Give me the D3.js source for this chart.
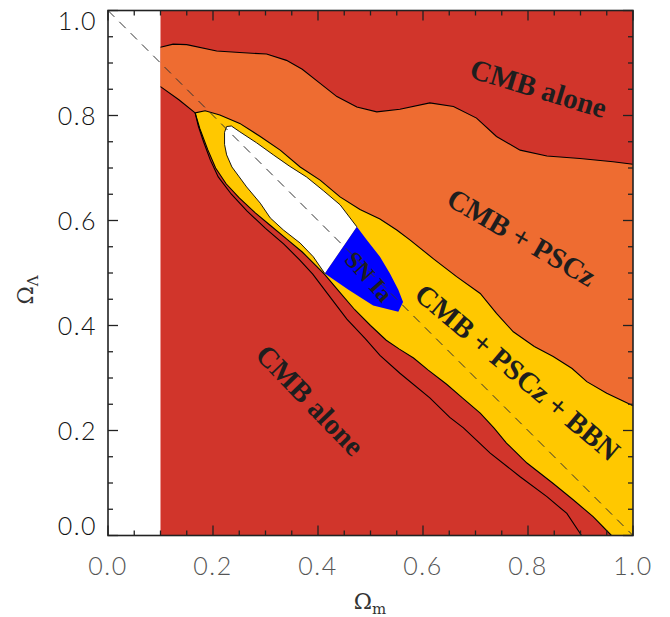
<!DOCTYPE html>
<html><head><meta charset="utf-8">
<script src="https://cdn.jsdelivr.net/npm/d3@7"></script>
<style>body{margin:0;background:#fff}svg{display:block}</style>
</head><body>
<svg id="c" width="670" height="617"></svg>
<script>
// ---- data ----
const xTickValues = [0, 0.2, 0.4, 0.6, 0.8, 1.0];
const yTickValues = [0, 0.2, 0.4, 0.6, 0.8, 1.0];
const tickLabels = ["0.0", "0.2", "0.4", "0.6", "0.8", "1.0"];
const minorStep = 0.05;
const cmbAloneBox = [[0.1, 0], [1, 0], [1, 1], [0.1, 1]];
const pscUpper = [[0.1,0.930],[0.124,0.936],[0.150,0.935],[0.207,0.923],[0.251,0.920],[0.302,0.917],[0.340,0.905],[0.370,0.888],[0.398,0.866],[0.436,0.836],[0.474,0.816],[0.512,0.807],[0.556,0.812],[0.613,0.824],[0.658,0.817],[0.702,0.795],[0.740,0.760],[0.785,0.734],[0.836,0.723],[0.899,0.718],[0.962,0.712],[1.0,0.707]];
const pscLowerLeft = [[0.1,0.855],[0.135,0.830],[0.166,0.805]];
const bbnUpper = [[0.166,0.805],[0.185,0.809],[0.213,0.801],[0.251,0.785],[0.290,0.760],[0.328,0.734],[0.366,0.702],[0.404,0.677],[0.442,0.645],[0.480,0.621],[0.518,0.603],[0.550,0.582],[0.575,0.563],[0.620,0.527],[0.664,0.493],[0.709,0.461],[0.740,0.423],[0.772,0.388],[0.812,0.360],[0.848,0.341],[0.884,0.318],[0.912,0.293],[0.950,0.271],[1.0,0.247]];
const bbnLower = [[0.166,0.805],[0.175,0.775],[0.190,0.735],[0.205,0.700],[0.225,0.670],[0.250,0.643],[0.280,0.615],[0.310,0.590],[0.340,0.565],[0.370,0.540],[0.395,0.515],[0.413,0.497],[0.440,0.465],[0.470,0.430],[0.500,0.400],[0.530,0.372],[0.555,0.355],[0.582,0.338],[0.610,0.315],[0.645,0.288],[0.675,0.262],[0.709,0.233],[0.735,0.205],[0.759,0.176],[0.798,0.138],[0.848,0.099],[0.886,0.068],[0.924,0.036],[0.959,0.0]];
const outerLine = [[0.166,0.805],[0.172,0.780],[0.182,0.750],[0.195,0.715],[0.210,0.683],[0.235,0.650],[0.265,0.618],[0.300,0.585],[0.335,0.555],[0.365,0.525],[0.390,0.498],[0.417,0.462],[0.455,0.412],[0.490,0.375],[0.518,0.343],[0.556,0.309],[0.613,0.262],[0.651,0.225],[0.677,0.205],[0.728,0.157],[0.785,0.112],[0.836,0.074],[0.874,0.042],[0.902,0.0]];
const snWhite = [[0.474,0.588],[0.442,0.630],[0.410,0.657],[0.378,0.683],[0.345,0.704],[0.315,0.725],[0.283,0.748],[0.251,0.769],[0.235,0.780],[0.226,0.779],[0.222,0.768],[0.222,0.745],[0.226,0.725],[0.236,0.702],[0.250,0.683],[0.264,0.664],[0.290,0.633],[0.309,0.605],[0.334,0.582],[0.366,0.557],[0.391,0.531],[0.413,0.499]];
const snBlue = [[0.474,0.588],[0.493,0.563],[0.518,0.531],[0.537,0.499],[0.553,0.468],[0.562,0.445],[0.553,0.426],[0.505,0.438],[0.458,0.468],[0.413,0.499]];
const flatLine = [[0, 1], [1, 0]];
const regionLabels = ["CMB alone", "CMB + PSCz", "CMB + PSCz + BBN", "CMB alone", "SN Ia"];
const labelAnchors = [[0.820, 0.852], [0.788, 0.568], [0.780, 0.311], [0.385, 0.258], [0.497, 0.493]];
const labelAngles = [17, 30, 40, 46, 48];

// ---- drawing ----
const svg = d3.select("#c");
const x = d3.scaleLinear().domain([0, 1]).range([108, 633]);
const y = d3.scaleLinear().domain([0, 1]).range([535.5, 10.5]);
const line = d3.line().x(d => x(d[0])).y(d => y(d[1]));
const C = {red: "#d1352b", orange: "#ee6c31", yellow: "#ffc800", blue: "#0000ff"};

svg.append("path").attr("d", line(cmbAloneBox) + "Z").attr("fill", C.red);
const orangePoly = pscUpper.concat([[1, 0]]).concat(bbnLower.slice().reverse()).concat(pscLowerLeft.slice().reverse());
svg.append("path").attr("d", line(orangePoly) + "Z").attr("fill", C.orange);
const yellowPoly = bbnUpper.concat([[1, 0]]).concat(bbnLower.slice().reverse());
svg.append("path").attr("d", line(yellowPoly) + "Z").attr("fill", C.yellow);
svg.append("path").attr("d", line(snWhite) + "Z").attr("fill", "#fff");
svg.append("path").attr("d", line(snBlue) + "Z").attr("fill", C.blue);

const strokeLines = [pscUpper, pscLowerLeft, bbnUpper, bbnLower, outerLine];
strokeLines.forEach(l => svg.append("path").attr("d", line(l)).attr("fill", "none").attr("stroke", "#000").attr("stroke-width", 1.1));
svg.append("path").attr("d", line(snWhite.slice(0, 11))).attr("fill", "none").attr("stroke", "#000").attr("stroke-width", 0.9);
svg.append("path").attr("d", line(snWhite.slice(10))).attr("fill", "none").attr("stroke", "#000").attr("stroke-width", 0.9);

svg.append("path").attr("d", line(flatLine)).attr("fill", "none").attr("stroke", "#333").attr("stroke-width", 1).attr("stroke-dasharray", "9,7");

// labels
regionLabels.forEach((t, i) => {
  const [lx, ly] = labelAnchors[i];
  svg.append("text").text(t)
    .attr("transform", `translate(${x(lx)},${y(ly)}) rotate(${labelAngles[i]})`)
    .attr("text-anchor", "middle").attr("dominant-baseline", "central")
    .attr("font-family", "'Liberation Serif', 'Times New Roman', serif")
    .attr("font-weight", "bold").attr("font-size", i === 4 ? 24 : 29).attr("fill", "#1e1e1e");
});

// frame + ticks
const minors = d3.range(0, 1.0001, minorStep);
const g = svg.append("g").attr("stroke", "#222").attr("stroke-width", 1.3);
minors.forEach(v => {
  const major = xTickValues.some(t => Math.abs(t - v) < 1e-6);
  const L = major ? 10 : 5;
  g.append("line").attr("x1", x(v)).attr("x2", x(v)).attr("y1", y(0)).attr("y2", y(0) - L);
  g.append("line").attr("x1", x(v)).attr("x2", x(v)).attr("y1", y(1)).attr("y2", y(1) + L);
  g.append("line").attr("y1", y(v)).attr("y2", y(v)).attr("x1", x(0)).attr("x2", x(0) + L);
  g.append("line").attr("y1", y(v)).attr("y2", y(v)).attr("x1", x(1)).attr("x2", x(1) - L);
});
svg.append("rect").attr("x", x(0)).attr("y", y(1)).attr("width", x(1) - x(0)).attr("height", y(0) - y(1))
  .attr("fill", "none").attr("stroke", "#222").attr("stroke-width", 1.6);

const fontTick = "Lato, 'Liberation Sans', Arial, sans-serif";
xTickValues.forEach((v, i) => {
  svg.append("text").text(tickLabels[i]).attr("x", x(v)).attr("y", 575)
    .attr("text-anchor", "middle").attr("font-family", fontTick).attr("font-weight", 300).attr("font-size", 25)
    .attr("letter-spacing", 1.5).attr("fill", "#555");
});
yTickValues.forEach((v, i) => {
  let by = y(v) + 9;
  if (v === 1) by = y(v) + 19;
  if (v === 0) by = y(v) - 1;
  svg.append("text").text(tickLabels[i]).attr("x", 97).attr("y", by)
    .attr("text-anchor", "end").attr("font-family", fontTick).attr("font-weight", 300).attr("font-size", 25)
    .attr("letter-spacing", 1.5).attr("fill", "#111");
});

// axis titles
const xt = svg.append("text").attr("x", 370).attr("y", 609).attr("text-anchor", "middle")
  .attr("font-family", "'DejaVu Serif', serif").attr("font-size", 22).attr("fill", "#333");
xt.append("tspan").text("Ω");
xt.append("tspan").text("m").attr("font-size", 15).attr("dy", 5);
const yt = svg.append("text").attr("transform", "translate(33,290) rotate(-90)").attr("text-anchor", "middle")
  .attr("font-family", "'DejaVu Serif', serif").attr("font-size", 22).attr("fill", "#333");
yt.append("tspan").text("Ω");
yt.append("tspan").text("Λ").attr("font-size", 15).attr("dy", 5);
</script>
</body></html>
